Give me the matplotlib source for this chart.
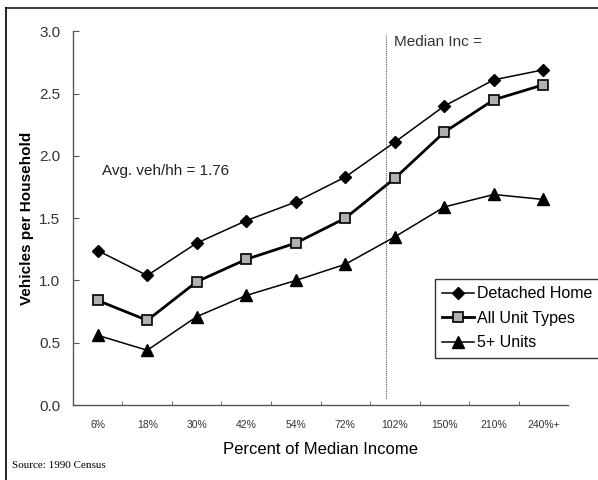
import matplotlib.pyplot as plt
from matplotlib.lines import Line2D

# data
categories = ["6%", "18%", "30%", "42%", "54%", "72%", "102%", "150%", "210%", "240%+"]
detached = [1.24, 1.04, 1.30, 1.48, 1.63, 1.83, 2.11, 2.40, 2.61, 2.69]
all_units = [0.84, 0.68, 0.99, 1.17, 1.30, 1.50, 1.82, 2.19, 2.45, 2.57]
five_plus = [0.56, 0.44, 0.71, 0.88, 1.00, 1.13, 1.35, 1.59, 1.69, 1.65]
median_pos = 5.83

plt.rcParams["font.family"] = ["Liberation Sans", "DejaVu Sans"]

fig = plt.figure(figsize=(5.98, 4.8), dpi=100)
ax = fig.add_axes([0.122, 0.156, 0.828, 0.779])

x = range(len(categories))
ax.plot(x, detached, color="black", lw=1.1, marker="D", ms=6, label="Detached Home")
ax.plot(x, all_units, color="black", lw=2.0, marker="s", ms=7, mfc="#b0b0b0",
        mec="black", mew=1.2, label="All Unit Types")
ax.plot(x, five_plus, color="black", lw=1.1, marker="^", ms=8, label="5+ Units")

ax.axvline(median_pos, ymin=0.02, ymax=0.99, color="#555555", lw=0.8, ls=(0, (1, 1)))
ax.text(median_pos + 0.15, 2.91, "Median Inc =", fontsize=11, color="#333333", va="center")
ax.text(0.08, 1.88, "Avg. veh/hh = 1.76", fontsize=11, color="#222222", va="center")

ax.set_xlim(-0.5, len(categories) - 0.5)
ax.set_ylim(0, 3.0)
ax.set_yticks([0, 0.5, 1.0, 1.5, 2.0, 2.5, 3.0])
ax.set_yticklabels(["0.0", "0.5", "1.0", "1.5", "2.0", "2.5", "3.0"], fontsize=11, color="#333333")
ax.set_xticks(list(x))
ax.set_xticklabels(categories, fontsize=7.5, color="#333333")
ax.set_xticks([i + 0.5 for i in range(len(categories) - 1)], minor=True)
ax.tick_params(axis="x", which="major", length=0, pad=11)
ax.tick_params(axis="x", which="minor", direction="in", length=3, color="#555555")
ax.tick_params(axis="y", direction="in", length=4, color="#555555", pad=9)

for s in ["top", "right"]:
    ax.spines[s].set_visible(False)
for s in ["left", "bottom"]:
    ax.spines[s].set_color("#555555")
    ax.spines[s].set_linewidth(1.0)

ax.set_xlabel("Percent of Median Income", fontsize=12, labelpad=8)
ax.set_ylabel("Vehicles per Household", fontsize=11, fontweight="bold", labelpad=4)

leg = fig.legend(loc="upper left", bbox_to_anchor=(435 / 598, 1 - 279 / 480),
                 fontsize=11.5, frameon=True, fancybox=False, edgecolor="black",
                 borderaxespad=0, handlelength=2.0, handletextpad=0.2,
                 borderpad=0.45, labelspacing=0.6)
leg.get_frame().set_linewidth(1.0)

fig.text(12 / 598, 1 - 465 / 480, "Source: 1990 Census", fontsize=8,
         family=["Liberation Serif", "DejaVu Serif"], va="center")

# page frame
fig.add_artist(Line2D([6 / 598, 1], [1 - 8 / 480, 1 - 8 / 480], color="#444444", lw=1.5))
fig.add_artist(Line2D([6 / 598, 6 / 598], [0, 1 - 8 / 480], color="black", lw=1.2))

fig.savefig("out.png", dpi=100)
